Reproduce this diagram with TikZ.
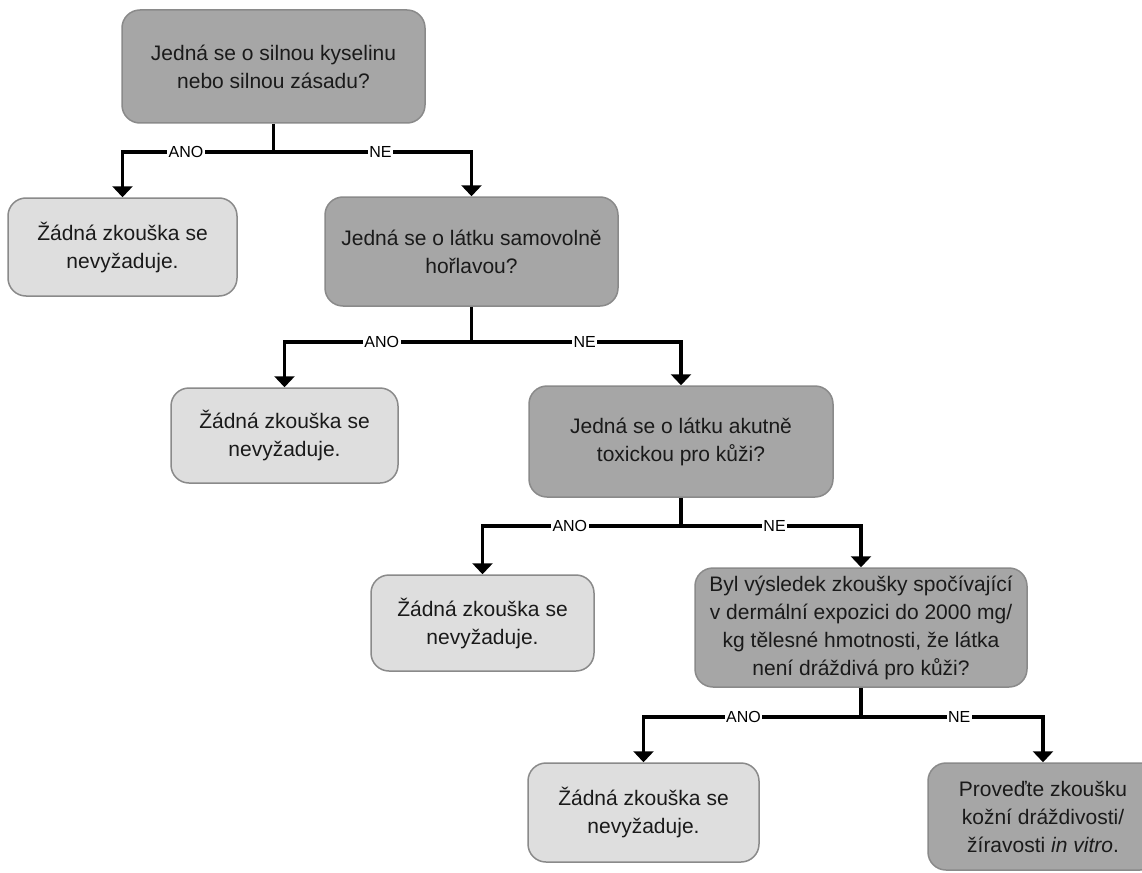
\documentclass[tikz,border=0pt]{standalone}
\usepackage{fontspec}
\setmainfont{Liberation Sans}
\usetikzlibrary{arrows.meta}
\definecolor{darkfill}{HTML}{A6A6A6}
\definecolor{lightfill}{HTML}{DEDEDE}
\definecolor{boxline}{HTML}{8A8A8A}
\definecolor{ink}{HTML}{1A1A1A}
\begin{document}
\begin{tikzpicture}[x=1pt,y=-1pt,
  box/.style={draw=boxline, line width=1.5pt, rounded corners=18pt, align=center,
    text=ink, font=\fontsize{21}{28}\selectfont, inner sep=0pt},
  question/.style={box, fill=darkfill},
  answer/.style={box, fill=lightfill},
  flow/.style={line width=3.5pt},
  tip/.style={-{Triangle[width=20pt,length=11pt]}},
  lbl/.style={fill=white, inner sep=1.5pt, font=\fontsize{16}{16}\selectfont, text=black}]
\clip (0,0) rectangle (1142,872);
\fill[white] (0,0) rectangle (1142,872);

% decision boxes
\node[question, minimum width=303pt, minimum height=113pt] (b1) at (273.5,66.5)
  {Jedná se o silnou kyselinu\\nebo silnou zásadu?};
\node[question, minimum width=293pt, minimum height=109pt] (b3) at (471.5,251.5)
  {Jedná se o látku samovolně\\hořlavou?};
\node[question, minimum width=304pt, minimum height=111pt] (b5) at (681,441.5)
  {Jedná se o látku akutně\\toxickou pro kůži?};
\node[question, minimum width=332pt, minimum height=119pt] (b7) at (861,627.5)
  {Byl výsledek zkoušky spočívající\\v dermální expozici do 2000 mg/\\kg tělesné hmotnosti, že látka\\není dráždivá pro kůži?};
\node[question, minimum width=230pt, minimum height=107pt] (b9) at (1043,816.5)
  {Proveďte zkoušku\\kožní dráždivosti/\\žíravosti \textit{in vitro}.};

% outcome boxes
\node[answer, minimum width=229pt, minimum height=98pt] (b2) at (122.5,247)
  {Žádná zkouška se\\nevyžaduje.};
\node[answer, minimum width=227pt, minimum height=95pt] (b4) at (284.5,435.5)
  {Žádná zkouška se\\nevyžaduje.};
\node[answer, minimum width=223pt, minimum height=96pt] (b6) at (482.5,623)
  {Žádná zkouška se\\nevyžaduje.};
\node[answer, minimum width=231pt, minimum height=99pt] (b8) at (643.5,812.5)
  {Žádná zkouška se\\nevyžaduje.};

% branching points
\coordinate (j1) at (273.5,152);
\coordinate (j2) at (471.5,342);
\coordinate (j3) at (681,526);
\coordinate (j4) at (861,717);

% connectors
\draw[flow] (b1.south) -- (j1);
\draw[flow,tip] (j1) -| node[lbl,pos=.29]{ANO} (b2.north);
\draw[flow,tip] (j1) -| node[lbl,pos=.27]{NE} (b3.north);

\draw[flow] (b3.south) -- (j2);
\draw[flow,tip] (j2) -| node[lbl,pos=.24]{ANO} (b4.north);
\draw[flow,tip] (j2) -| node[lbl,pos=.27]{NE} (b5.north);

\draw[flow] (b5.south) -- (j3);
\draw[flow,tip] (j3) -| node[lbl,pos=.28]{ANO} (b6.north);
\draw[flow,tip] (j3) -| node[lbl,pos=.26]{NE} (b7.north);

\draw[flow] (b7.south) -- (j4);
\draw[flow,tip] (j4) -| node[lbl,pos=.27]{ANO} (b8.north);
\draw[flow,tip] (j4) -| node[lbl,pos=.27]{NE} (b9.north);
\end{tikzpicture}
\end{document}
